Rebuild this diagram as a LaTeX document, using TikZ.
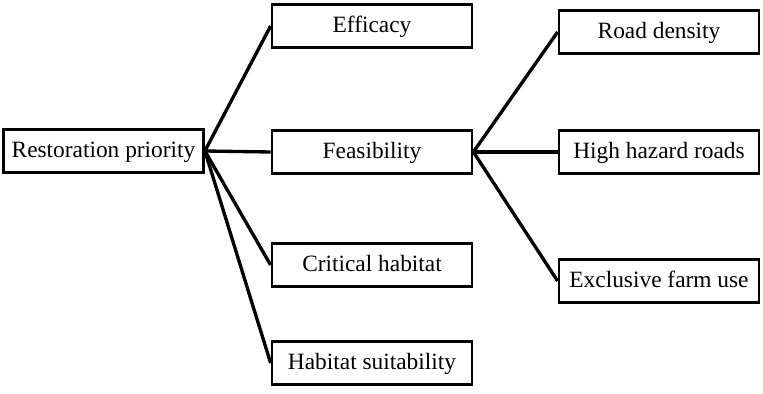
\documentclass[tikz,border=0pt]{standalone}
\usepackage{fontspec}
\setmainfont{Liberation Serif}
\begin{document}
\begin{tikzpicture}[x=0.02cm,y=-0.02cm,
  box/.style={draw,line width=1.6pt,minimum width=4cm,minimum height=0.85cm,inner sep=0pt,
    text height=1.9ex,text depth=0.35ex,font=\fontsize{13.3}{16}\selectfont},
  link/.style={line width=1.9pt}]
\useasboundingbox (0,0) rectangle (763,394);
%root
\node[box] (prio) at (103.5,151) {Restoration priority};
%criteria
\node[box] (eff) at (372,26) {Efficacy};
\node[box] (feas) at (372,152) {Feasibility};
\node[box] (crit) at (372,265) {Critical habitat};
\node[box] (suit) at (372,363) {Habitat suitability};
%feasibility factors
\node[box] (road) at (659,32) {Road density};
\node[box] (haz) at (659,152) {High hazard roads};
\node[box] (farm) at (659,281) {Exclusive farm use};
%links
\draw[link] (prio.east) -- (eff.west);
\draw[link] (prio.east) -- (feas.west);
\draw[link] (prio.east) -- (crit.west);
\draw[link] (prio.east) -- (suit.west);
\draw[link] (feas.east) -- (road.west);
\draw[link] (feas.east) -- (haz.west);
\draw[link] (feas.east) -- (farm.west);
\end{tikzpicture}
\end{document}
